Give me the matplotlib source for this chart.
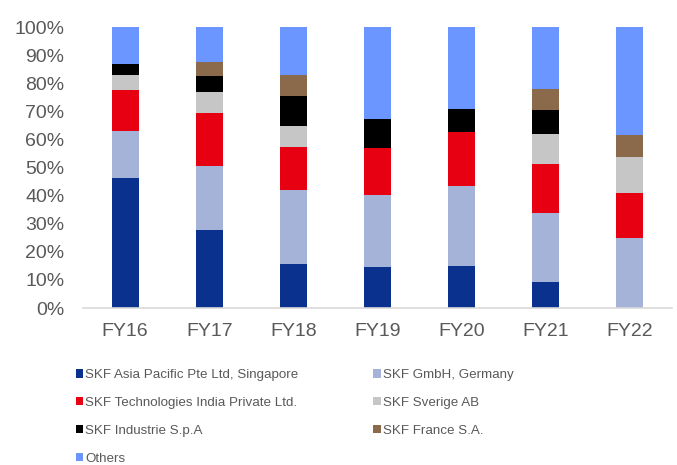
import matplotlib
matplotlib.use("Agg")
import matplotlib.pyplot as plt
import numpy as np

plt.rcParams["font.family"] = ["Liberation Sans", "DejaVu Sans"]

# Daten (Anteile in %)
years = ["FY16", "FY17", "FY18", "FY19", "FY20", "FY21", "FY22"]
asia      = [46.2, 27.6, 15.5, 14.5, 14.9,  9.2,  0.0]
germany   = [16.8, 23.0, 26.5, 25.6, 28.7, 24.5, 25.0]
india     = [14.6, 19.0, 15.5, 16.9, 18.9, 17.4, 16.0]
sverige   = [ 5.4,  7.2,  7.4,  0.0,  0.0, 10.7, 12.9]
industrie = [ 3.9,  5.9, 10.7, 10.3,  8.5,  8.8,  0.0]
france    = [ 0.0,  5.0,  7.4,  0.0,  0.0,  7.5,  7.6]
others    = [13.1, 12.3, 17.0, 32.7, 29.0, 21.9, 38.5]

series = [
    ("SKF Asia Pacific Pte Ltd, Singapore", asia,      "#0B318F"),
    ("SKF GmbH, Germany",                   germany,   "#A6B3D9"),
    ("SKF Technologies India Private Ltd.", india,     "#E60012"),
    ("SKF Sverige AB",                      sverige,   "#C6C6C6"),
    ("SKF Industrie S.p.A",                 industrie, "#000000"),
    ("SKF France S.A.",                     france,    "#8B6A4B"),
    ("Others",                              others,    "#6B96FF"),
]

fig = plt.figure(figsize=(6.77, 4.65), dpi=100)
ax = fig.add_axes([0.1226, 0.3376, 0.870, 0.604])

x = np.arange(len(years))
bottom = np.zeros(len(years))
handles = {}
for name, vals, col in series:
    vals = np.array(vals)
    b = ax.bar(x, vals, bottom=bottom, width=0.32, color=col, label=name,
               edgecolor="none")
    handles[name] = b
    bottom += vals

ax.set_ylim(0, 100)
ax.set_xlim(-0.5, len(years) - 0.5)
ax.set_yticks(np.arange(0, 101, 10))
ax.set_yticklabels([f"{v}%" for v in range(0, 101, 10)])
ax.set_xticks(x)
ax.set_xticklabels(years)
ax.tick_params(axis="both", length=0, labelsize=14, colors="#595959")
ax.tick_params(axis="x", pad=10.5)
ax.tick_params(axis="y", pad=13.5)

for side in ["top", "right", "left"]:
    ax.spines[side].set_visible(False)
ax.spines["bottom"].set_color("#D9D9D9")
ax.spines["bottom"].set_linewidth(1.2)

# Legende: zeilenweise Reihenfolge wie im Original
names = [s[0] for s in series]
order = [0, 2, 4, 6, 1, 3, 5]
fig.legend(
    [handles[names[i]] for i in order],
    [names[i] for i in order],
    loc="upper left",
    bbox_to_anchor=(0.1123, 0.206),
    borderaxespad=0,
    borderpad=0,
    ncol=2,
    frameon=False,
    fontsize=9.6,
    handlelength=0.55,
    handleheight=0.55,
    handletextpad=0.15,
    labelspacing=1.19,
    columnspacing=5.6,
    labelcolor="#595959",
)

fig.savefig("out.png", dpi=100)
